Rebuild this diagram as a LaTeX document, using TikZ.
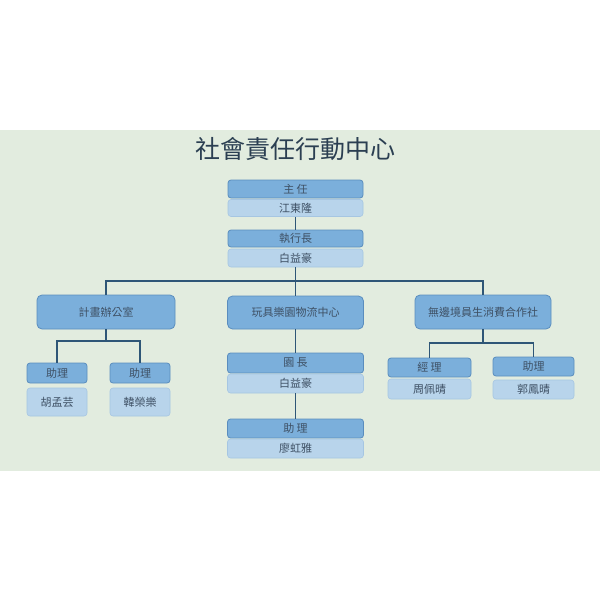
\documentclass[tikz,border=0pt]{standalone}
\usepackage{fontspec}
\setmainfont{Noto Sans CJK TC}
\definecolor{bg}{HTML}{E2ECDF}
\definecolor{dk}{HTML}{7BAFDB}
\definecolor{dkb}{HTML}{5A8DBE}
\definecolor{lt}{HTML}{B8D4EB}
\definecolor{ltb}{HTML}{A6C6E2}
\definecolor{txt}{HTML}{3E5064}
\definecolor{ln}{HTML}{2E5677}
\definecolor{ttl}{HTML}{2B3F52}
\tikzset{
  hd/.style={draw=dkb, fill=dk, line width=0.8pt, rounded corners=3pt, text=txt, inner sep=0pt, font=\fontsize{11}{12}\selectfont},
  nm/.style={draw=ltb, fill=lt, line width=0.6pt, rounded corners=3pt, text=txt, inner sep=0pt, font=\fontsize{11}{12}\selectfont},
  big/.style={hd, rounded corners=5pt},
  conn/.style={draw=ln, line width=1.9pt}
}
\begin{document}
\begin{tikzpicture}[x=1pt,y=-1pt]
\useasboundingbox (0,0) rectangle (600,600);
\fill[white] (0,0) rectangle (600,600);
\fill[bg] (0,130) rectangle (600,471);
\node[text=ttl, font=\fontsize{25}{28}\selectfont] (title) at (295,149) {社會責任行動中心};
% top
\node[hd, minimum width=135pt, minimum height=18pt] (t1) at (295.5,189) {主 任};
\node[nm, minimum width=135pt, minimum height=17pt] (t1n) at (295.5,208) {江東隆};
\node[hd, minimum width=135pt, minimum height=17pt] (t2) at (295.5,238.5) {執行長};
\node[nm, minimum width=135pt, minimum height=18pt] (t2n) at (295.5,258) {白益豪};
% second level
\node[big, minimum width=138pt, minimum height=34pt] (A) at (106,312) {計畫辦公室};
\node[big, minimum width=136pt, minimum height=33pt] (B) at (295.5,312.5) {玩具樂園物流中心};
\node[big, minimum width=136pt, minimum height=34pt] (C) at (483,312) {無邊境員生消費合作社};
% left subs
\node[hd, minimum width=60pt, minimum height=20pt] (L1) at (57,373) {助理};
\node[nm, minimum width=60pt, minimum height=28pt] (L1n) at (57,402) {胡孟芸};
\node[hd, minimum width=60pt, minimum height=20pt] (L2) at (140,373) {助理};
\node[nm, minimum width=60pt, minimum height=28pt] (L2n) at (140,402) {韓榮樂};
% center subs
\node[hd, minimum width=136pt, minimum height=20pt] (M1) at (295.5,363) {園 長};
\node[nm, minimum width=136pt, minimum height=19pt] (M1n) at (295.5,383.5) {白益豪};
\node[hd, minimum width=136pt, minimum height=19pt] (M2) at (295.5,428.5) {助 理};
\node[nm, minimum width=136pt, minimum height=19pt] (M2n) at (295.5,448.5) {廖虹雅};
% right subs
\node[hd, minimum width=83pt, minimum height=19pt] (R1) at (429.5,367.5) {經 理};
\node[nm, minimum width=83pt, minimum height=20pt] (R1n) at (429.5,389) {周佩晴};
\node[hd, minimum width=81pt, minimum height=19pt] (R2) at (533.5,366.5) {助理};
\node[nm, minimum width=81pt, minimum height=19pt] (R2n) at (533.5,389.5) {郭鳳晴};
% connectors
\coordinate (j) at (295.5,281);
\coordinate (a) at (106,341);
\coordinate (c) at (483,343);
\draw[conn] (t1n.south) -- (t2.north);
\draw[conn] (t2n.south) -- (j);
\draw[conn] (A.north) |- (j) -| (C.north);
\draw[conn] (j) -- (B.north);
\draw[conn] (A.south) -- (a);
\draw[conn] (L1.north) |- (a) -| (L2.north);
\draw[conn] (B.south) -- (M1.north);
\draw[conn] (M1n.south) -- (M2.north);
\draw[conn] (C.south) -- (c);
\draw[conn] (R1.north) |- (c) -| (R2.north);
\end{tikzpicture}
\end{document}
